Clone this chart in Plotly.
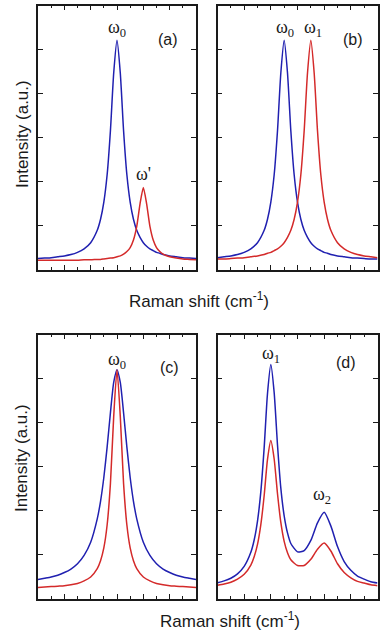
import plotly.graph_objects as go

# ---- data (x in arbitrary Raman-shift units 0..12) ----

# panel (a): single mode w0 (blue) and shifted weak mode w' (red)
x_a = [0, 0.5, 1, 1.5, 2, 2.5, 3, 3.5, 4, 4.5,
       4.75, 5, 5.25, 5.5, 5.75, 6, 6.25, 6.5, 6.75, 7, 7.25, 7.5, 7.75, 8, 8.25, 8.5, 8.75, 9, 9.25,
       9.5, 10, 10.5, 11, 11.5, 12]
blue_a = [0.26, 0.27, 0.28, 0.30, 0.32, 0.35, 0.40, 0.48, 0.62, 0.90,
          1.15, 1.54, 2.16, 3.16, 4.47, 5.21, 4.47, 3.16, 2.16, 1.54, 1.15, 0.90, 0.74, 0.62, 0.54, 0.48, 0.44, 0.40, 0.38,
          0.35, 0.32, 0.30, 0.28, 0.27, 0.26]
red_a = [0.22, 0.22, 0.22, 0.22, 0.22, 0.22, 0.22, 0.23, 0.23, 0.24,
         0.24, 0.25, 0.26, 0.27, 0.28, 0.30, 0.32, 0.36, 0.42, 0.51, 0.68, 0.99, 1.50, 1.87, 1.50, 0.99, 0.68, 0.51, 0.42,
         0.36, 0.30, 0.27, 0.25, 0.24, 0.23]

# panel (b): w0 (blue) and w1 (red), same height
x_b = [0, 0.5, 1, 1.5, 2, 2.5, 3, 3.5,
       3.75, 4, 4.25, 4.5, 4.75, 5, 5.25, 5.5, 5.75, 6, 6.25, 6.5, 6.75, 7, 7.25, 7.5, 7.75, 8, 8.25,
       8.5, 9, 9.5, 10, 10.5, 11, 11.5, 12]
blue_b = [0.28, 0.30, 0.32, 0.35, 0.40, 0.48, 0.62, 0.90,
          1.15, 1.54, 2.16, 3.16, 4.47, 5.21, 4.47, 3.16, 2.16, 1.54, 1.15, 0.90, 0.74, 0.62, 0.54, 0.48, 0.44, 0.40, 0.38,
          0.35, 0.32, 0.30, 0.28, 0.27, 0.26, 0.25, 0.25]
red_b = [0.25, 0.25, 0.26, 0.27, 0.28, 0.30, 0.32, 0.35,
         0.38, 0.40, 0.44, 0.48, 0.54, 0.62, 0.74, 0.90, 1.15, 1.54, 2.16, 3.16, 4.47, 5.21, 4.47, 3.16, 2.16, 1.54, 1.15,
         0.90, 0.62, 0.48, 0.40, 0.35, 0.32, 0.30, 0.28]

# panel (c): broad (blue) and narrow (red) w0
x_c = [0, 0.5, 1, 1.5, 2, 2.5, 3, 3.5, 4, 4.5,
       4.75, 5, 5.25, 5.5, 5.75, 6, 6.25, 6.5, 6.75, 7, 7.25,
       7.5, 8, 8.5, 9, 9.5, 10, 10.5, 11, 11.5, 12]
blue_c = [0.43, 0.46, 0.49, 0.53, 0.59, 0.67, 0.79, 0.98, 1.28, 1.81,
          2.21, 2.75, 3.44, 4.22, 4.91, 5.20, 4.91, 4.22, 3.44, 2.75, 2.21,
          1.81, 1.28, 0.98, 0.79, 0.67, 0.59, 0.53, 0.49, 0.46, 0.43]
red_c = [0.25, 0.26, 0.27, 0.28, 0.29, 0.31, 0.34, 0.40, 0.49, 0.68,
         0.86, 1.15, 1.67, 2.61, 4.14, 5.20, 4.14, 2.61, 1.67, 1.15, 0.86,
         0.68, 0.49, 0.40, 0.34, 0.31, 0.29, 0.28, 0.27, 0.26, 0.25]

# panel (d): w1 and w2, blue stronger than red
x_d = [0, 0.5, 1, 1.5, 2, 2.5,
       2.75, 3, 3.25, 3.5, 3.75, 4, 4.25, 4.5, 4.75, 5, 5.25,
       5.5, 6, 6.5, 7, 7.5, 8, 8.5, 9, 9.5, 10, 10.5, 11, 11.5, 12]
blue_d = [0.36, 0.40, 0.46, 0.56, 0.73, 1.05,
          1.33, 1.76, 2.43, 3.43, 4.66, 5.32, 4.68, 3.49, 2.51, 1.88, 1.49,
          1.25, 1.06, 1.09, 1.32, 1.72, 1.96, 1.65, 1.18, 0.84, 0.64, 0.51, 0.44, 0.38, 0.35]
red_d = [0.30, 0.33, 0.37, 0.44, 0.55, 0.76,
         0.95, 1.23, 1.68, 2.34, 3.16, 3.59, 3.17, 2.38, 1.73, 1.30, 1.04,
         0.88, 0.75, 0.75, 0.89, 1.12, 1.26, 1.08, 0.79, 0.59, 0.47, 0.39, 0.35, 0.31, 0.29]

panels = [
    ('x', 'y', x_a, blue_a, red_a),
    ('x2', 'y2', x_b, blue_b, red_b),
    ('x3', 'y3', x_c, blue_c, red_c),
    ('x4', 'y4', x_d, blue_d, red_d),
]

BLUE = '#2020b0'
RED = '#d42a2a'
INK = '#1a1a1a'

fig = go.Figure()

for xa, ya, xs, yb, yr in panels:
    fig.add_trace(go.Scatter(x=xs, y=yb, mode='lines', xaxis=xa, yaxis=ya,
                             line=dict(color=BLUE, width=1.5, shape='spline', smoothing=0.6),
                             showlegend=False))
    fig.add_trace(go.Scatter(x=xs, y=yr, mode='lines', xaxis=xa, yaxis=ya,
                             line=dict(color=RED, width=1.5, shape='spline', smoothing=0.6),
                             showlegend=False))


def x_axis(domain, anchor):
    return dict(domain=domain, anchor=anchor, range=[0, 12],
                tick0=0, dtick=2, ticks='inside', ticklen=5, tickwidth=1, tickcolor=INK,
                minor=dict(dtick=1, ticks='inside', ticklen=3, tickwidth=1, tickcolor=INK, showgrid=False),
                showticklabels=False, showline=True, linecolor=INK, linewidth=1.5,
                mirror='ticks', showgrid=False, zeroline=False, fixedrange=True)


def y_axis(domain, anchor):
    return dict(domain=domain, anchor=anchor, range=[0, 6],
                tick0=0, dtick=1, ticks='inside', ticklen=5, tickwidth=1, tickcolor=INK,
                showticklabels=False, showline=True, linecolor=INK, linewidth=1.5,
                mirror='ticks', showgrid=False, zeroline=False, fixedrange=True)


W, H = 384, 636
left_dom = [38 / W, 196 / W]
right_dom = [217.5 / W, 377.5 / W]
top_dom = [1 - 270 / H, 1 - 5.5 / H]
bot_dom = [1 - 598.5 / H, 1 - 334.5 / H]

fig.update_layout(
    xaxis=x_axis(left_dom, 'y'), yaxis=y_axis(top_dom, 'x'),
    xaxis2=x_axis(right_dom, 'y2'), yaxis2=y_axis(top_dom, 'x2'),
    xaxis3=x_axis(left_dom, 'y3'), yaxis3=y_axis(bot_dom, 'x3'),
    xaxis4=x_axis(right_dom, 'y4'), yaxis4=y_axis(bot_dom, 'x4'),
)

omega_font = dict(family='Liberation Serif', size=18, color=INK)
letter_font = dict(family='Liberation Sans', size=16, color=INK)
title_font = dict(family='Liberation Sans', size=17, color=INK)

# peak labels (placed at the peak positions)
peak_labels = [
    ('x', 'y', 6.0, 5.47, 'ω<sub>0</sub>'),
    ('x', 'y', 8.0, 2.17, "ω'"),
    ('x2', 'y2', 5.05, 5.47, 'ω<sub>0</sub>'),
    ('x2', 'y2', 7.15, 5.47, 'ω<sub>1</sub>'),
    ('x3', 'y3', 6.0, 5.42, 'ω<sub>0</sub>'),
    ('x4', 'y4', 3.98, 5.55, 'ω<sub>1</sub>'),
    ('x4', 'y4', 7.8, 2.35, 'ω<sub>2</sub>'),
]
for xr, yr, xv, yv, txt in peak_labels:
    fig.add_annotation(x=xv, y=yv, xref=xr, yref=yr, text=txt, showarrow=False,
                       font=omega_font, xanchor='center', yanchor='middle')

panel_letters = [
    ('x', 'y', 9.85, 5.23, '(a)'),
    ('x2', 'y2', 10.17, 5.22, '(b)'),
    ('x3', 'y3', 9.97, 5.25, '(c)'),
    ('x4', 'y4', 9.64, 5.36, '(d)'),
]
for xr, yr, xv, yv, txt in panel_letters:
    fig.add_annotation(x=xv, y=yv, xref=xr, yref=yr, text=txt, showarrow=False,
                       font=letter_font, xanchor='center', yanchor='middle')

# axis titles
for cx, cy in [(199, 300), (230, 620)]:
    fig.add_annotation(x=cx / W, y=1 - cy / H, xref='paper', yref='paper',
                       text='Raman shift (cm<sup>-1</sup>)', showarrow=False,
                       font=title_font, xanchor='center', yanchor='middle')
for cx, cy in [(22, 134), (22, 458)]:
    fig.add_annotation(x=cx / W, y=1 - cy / H, xref='paper', yref='paper',
                       text='Intensity (a.u.)', textangle=-90, showarrow=False,
                       font=title_font, xanchor='center', yanchor='middle')

fig.update_layout(width=W, height=H, margin=dict(l=0, r=0, t=0, b=0),
                  paper_bgcolor='white', plot_bgcolor='white')

# drop the default page margin so the figure sits at the window's corner
fig.write_html("out.html", config={'displayModeBar': False},
               post_script="document.body.style.margin='0';")
